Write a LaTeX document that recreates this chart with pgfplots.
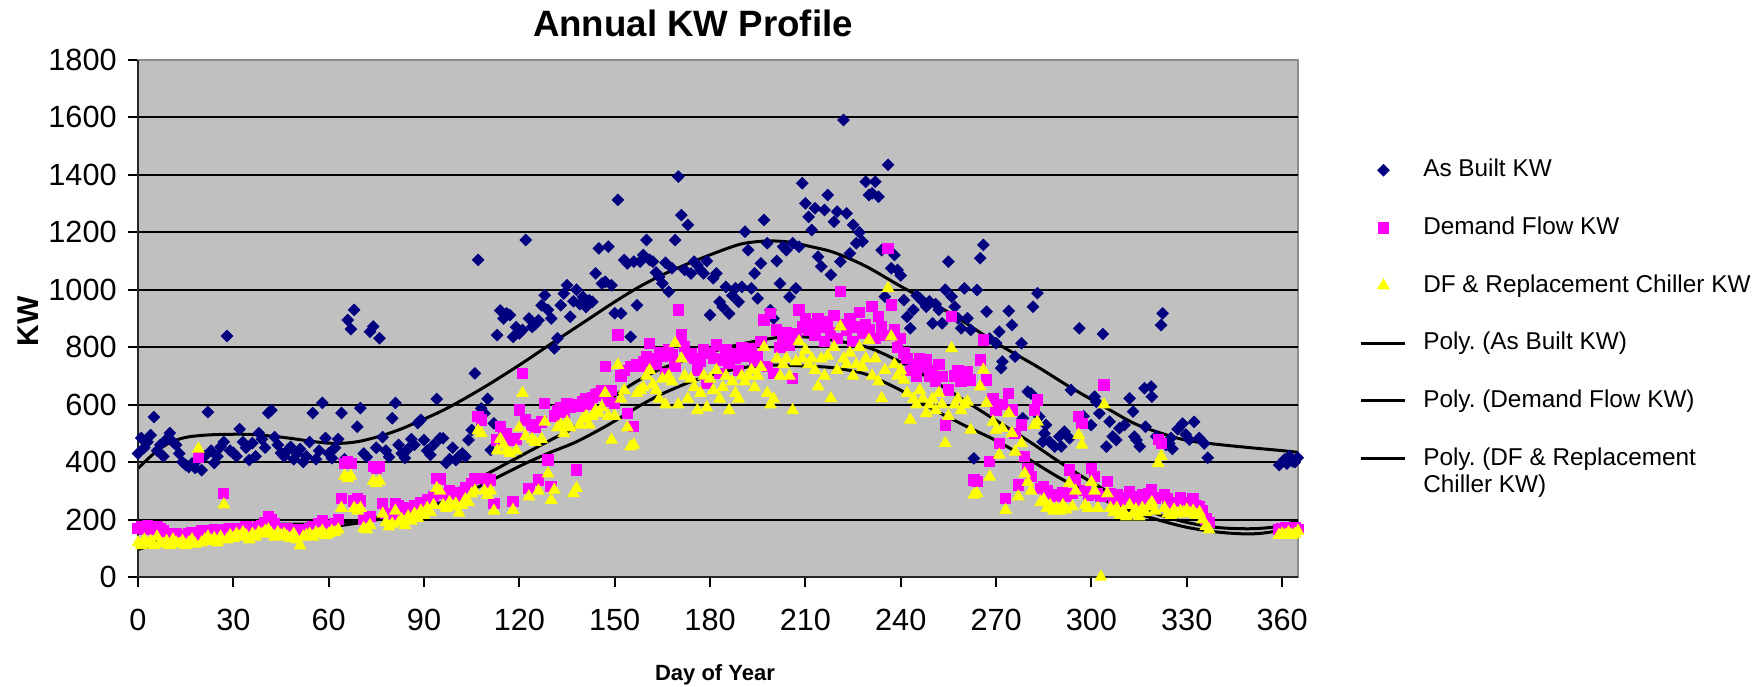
\documentclass[border=0pt]{standalone}
\usepackage{pgfplots}
\pgfplotsset{compat=1.18}
\usepackage{fontspec}
\setmainfont{Liberation Sans}
\frenchspacing
\definecolor{abnavy}{RGB}{0,0,128}
\definecolor{dfmag}{RGB}{255,0,255}
\definecolor{dfryel}{RGB}{255,255,0}
\definecolor{plotgray}{RGB}{192,192,192}
\begin{document}
\begin{tikzpicture}
\path[use as bounding box] (-41.4pt,-33pt) rectangle (484.2pt,173.1pt);
\begin{axis}[
  at={(0pt,0pt)}, anchor=south west,
  scale only axis, width=348pt, height=155.1pt,
  xmin=0, xmax=365, ymin=0, ymax=1800,
  xtick={0,30,...,360}, ytick={0,200,...,1800},
  extra y ticks={200,400,...,1600},
  extra y tick labels={},
  extra y tick style={/pgfplots/major tick length=0pt, grid=major, major grid style={black, line width=0.6pt}},
  tick pos=left, tick align=outside,
  major tick length=3pt,
  tick style={black, line width=0.6pt},
  /pgf/number format/1000 sep={},
  /pgf/number format/assume math mode=true,
  ticklabel style={font=\fontsize{9.2}{10}\selectfont, inner sep=0pt},
  xticklabel shift=6.4pt,
  yticklabel shift=3.2pt,
  axis line style={draw=black!45, line width=0.6pt},
  axis background/.style={fill=plotgray},
  clip=false,
  title={Annual KW Profile},
  title style={at={(0.4784,1.0317)}, anchor=center, font=\bfseries\fontsize{11}{13}\selectfont},
  xlabel={Day of Year},
  xlabel style={at={(0.4974,-0.2)}, anchor=base, font=\bfseries\fontsize{6.6}{8}\selectfont},
  ylabel={KW},
  ylabel style={at={(-0.0948,0.494)}, anchor=center, font=\bfseries\fontsize{9}{11}\selectfont},
  legend style={at={(1.0534,0.8125)}, anchor=north west, draw=none, fill=none,
    inner sep=0pt, outer sep=0pt, font=\fontsize{7.3}{8.2}\selectfont,
    row sep=9.3pt, column sep=4.4pt,
    nodes={inner sep=0.5pt, text height=5.5pt, text depth=1.5pt}},
  legend cell align=left,
  scatterleg/.style={legend image code/.code={\draw[mark repeat=2,mark phase=2,##1] plot coordinates {(0pt,0pt) (6.6pt,0pt) (13.2pt,0pt)};}},
  lineleg/.style={legend image code/.code={\draw[##1] (0pt,0pt) -- (13.2pt,0pt);}},
]
\addplot[only marks, mark=square*, mark size=1.15pt, mark options={rotate=45, draw=abnavy, fill=abnavy}, scatterleg] coordinates {
(0,430) (1,484) (2,450) (3,470) (4,494) (5,557) (6,440) (7,460) (8,420) (9,480)
(10,501) (11,470) (12,460) (13,430) (14,400) (15,390) (16,383) (17,395) (18,380) (19,410)
(20,372) (21,420) (22,574) (23,440) (24,397) (25,420) (26,453) (27,470) (28,839) (29,440)
(30,432) (31,420) (32,515) (33,470) (34,450) (35,407) (36,466) (37,420) (38,501) (39,480)
(40,450) (41,571) (42,581) (43,487) (44,460) (45,432) (46,420) (47,440) (48,453) (49,410)
(50,430) (51,445) (52,400) (53,420) (54,470) (55,571) (56,410) (57,440) (58,606) (59,484)
(60,430) (61,414) (62,450) (63,480) (64,571) (65,410) (66,895) (67,863) (68,930) (69,523)
(70,588) (71,430) (72,418) (73,854) (74,872) (75,450) (76,831) (77,487) (78,440) (79,418)
(80,553) (81,606) (82,460) (83,430) (84,414) (85,446) (86,480) (87,460) (88,536) (89,547)
(90,477) (91,440) (92,425) (93,460) (94,620) (95,483) (96,483) (97,397) (98,410) (99,450)
(100,407) (101,420) (102,430) (103,419) (104,477) (105,512) (106,709) (107,1104) (108,587) (109,570)
(110,620) (111,442) (112,535) (113,842) (114,928) (115,900) (116,918) (117,912) (118,836) (119,870)
(120,848) (121,860) (122,1173) (123,900) (124,871) (125,880) (126,894) (127,946) (128,981) (129,930)
(130,900) (131,796) (132,831) (133,946) (134,987) (135,1016) (136,906) (137,960) (138,1000) (139,950)
(140,975) (141,940) (142,963) (143,958) (144,1057) (145,1144) (146,1022) (147,1028) (148,1150) (149,1016)
(150,918) (151,1313) (152,918) (153,1104) (154,1092) (155,836) (156,1098) (157,946) (158,1098) (159,1121)
(160,1173) (161,1104) (162,1098) (163,1060) (164,1045) (165,1022) (166,1094) (167,993) (168,1075) (169,1173)
(170,1394) (171,1260) (172,1069) (173,1226) (174,1057) (175,1098) (176,1086) (177,1069) (178,1057) (179,1100)
(180,912) (181,1040) (182,1057) (183,958) (184,940) (185,1010) (186,917) (187,980) (188,1005) (189,958)
(190,1010) (191,1202) (192,1138) (193,1005) (194,1057) (195,970) (196,1092) (197,1243) (198,1162) (199,929)
(200,900) (201,1100) (202,1022) (203,1150) (204,1138) (205,975) (206,1162) (207,1005) (208,1150) (209,1371)
(210,1301) (211,1254) (212,1208) (213,1284) (214,1115) (215,1081) (216,1278) (217,1330) (218,1052) (219,1237)
(220,1272) (221,1098) (222,1591) (223,1266) (224,1127) (225,1226) (226,1162) (227,1200) (228,1168) (229,1376)
(230,1330) (231,1336) (232,1376) (233,1324) (234,1138) (235,976) (236,1435) (237,1075) (238,1121) (239,1069)
(240,1050) (241,964) (242,906) (243,866) (244,930) (245,980) (246,970) (247,958) (248,941) (249,960)
(250,883) (251,950) (252,930) (253,883) (254,1000) (255,1098) (256,976) (257,941) (258,901) (259,866)
(260,1005) (261,901) (262,860) (263,413) (264,999) (265,1110) (266,1156) (267,924) (268,830) (270,814)
(271,854) (271.6,727) (272,750) (274,926) (275,877) (276,767) (278,814) (278.4,553) (280,645) (281,639)
(281.6,941) (283,988) (283.6,558) (284.7,471) (285.2,500) (285.7,529) (286.8,471) (288.4,454) (289.9,489) (290.5,454)
(291.5,506) (293.1,483) (293.6,651) (296.2,866) (297.5,560) (299.9,529) (301,628) (301.5,610) (302.5,570) (303.6,846)
(304.7,454) (305.7,541) (306.7,489) (307.8,477) (308.8,518) (310.4,529) (312,622) (313.1,576) (313.5,489) (314.2,477)
(315.2,454) (316.7,657) (317,523) (318.8,663) (319,628) (320.4,489) (321.9,877) (322.4,918) (323.5,460) (324.5,465)
(325,484) (325.5,446) (327.1,515) (328.7,534) (329.7,496) (330.8,478) (332.3,540) (333.9,484) (335.5,465) (336.6,415)
(359.1,390) (360.7,409) (361.5,395) (362.3,421) (363.3,403) (364,400) (364.9,415)
};
\addlegendentry{As Built KW}
\addplot[only marks, mark=square*, mark size=1.5pt, mark options={draw=dfmag, fill=dfmag}, scatterleg] coordinates {
(0,170) (1,175) (2,165) (3,177) (4,170) (5,165) (6,175) (7,170) (8,160) (9,150)
(10,145) (11,140) (12,150) (13,145) (14,140) (15,135) (16,150) (17,155) (18,140) (19,415)
(20,160) (21,150) (22,155) (23,160) (24,165) (25,150) (26,160) (27,290) (28,165) (29,170)
(30,160) (31,165) (32,170) (33,160) (34,175) (35,165) (36,160) (37,170) (38,175) (39,180)
(40,190) (41,209) (42,200) (43,185) (44,170) (45,165) (46,160) (47,170) (48,165) (49,160)
(50,165) (51,155) (52,160) (53,165) (54,170) (55,175) (56,170) (57,185) (58,196) (59,180)
(60,175) (61,170) (62,185) (63,200) (64,274) (65,396) (66,401) (67,396) (68,265) (69,274)
(70,265) (71,200) (72,195) (73,210) (74,384) (75,377) (76,384) (77,256) (78,220) (79,205)
(80,215) (81,256) (82,247) (83,230) (84,215) (85,240) (86,220) (87,250) (88,235) (89,260)
(90,245) (91,270) (92,255) (93,280) (94,344) (95,341) (96,290) (97,275) (98,300) (99,285)
(100,295) (101,256) (102,280) (103,310) (104,300) (105,326) (106,343) (107,558) (108,547) (109,343)
(110,320) (111,338) (112,256) (113,477) (114,523) (115,500) (116,500) (117,477) (118,262) (119,480)
(120,581) (121,709) (122,547) (123,309) (124,529) (125,520) (126,338) (127,540) (128,605) (129,407)
(130,314) (131,560) (132,580) (133,590) (134,575) (135,605) (136,590) (137,600) (138,373) (139,595)
(140,611) (141,620) (142,600) (143,625) (144,634) (145,640) (146,650) (147,732) (148,611) (149,650)
(150,605) (151,843) (152,700) (153,720) (154,570) (155,732) (156,523) (157,738) (158,732) (159,750)
(160,767) (161,814) (162,760) (163,740) (164,780) (165,767) (166,709) (167,790) (168,773) (169,732)
(170,930) (171,843) (172,802) (173,770) (174,779) (175,760) (176,721) (177,750) (178,790) (179,674)
(180,780) (181,760) (182,808) (183,709) (184,755) (185,790) (186,744) (187,779) (188,760) (189,720)
(190,800) (191,767) (192,780) (193,796) (194,750) (195,767) (196,820) (197,895) (198,732) (199,918)
(200,709) (201,860) (202,800) (203,837) (204,850) (205,808) (206,692) (207,848) (208,930) (209,870)
(210,900) (211,860) (212,880) (213,840) (214,900) (215,870) (216,820) (217,890) (218,850) (219,910)
(220,830) (221,993) (222,880) (223,860) (224,900) (225,820) (226,870) (227,920) (228,850) (229,880)
(230,860) (231,941) (232,830) (233,906) (234,870) (235,840) (236,1144) (237,947) (238,860) (239,800)
(240,830) (241,780) (242,760) (243,720) (244,740) (245,700) (246,760) (247,730) (248,755) (249,700)
(250,720) (251,680) (252,740) (253,697) (254,529) (255,651) (256,906) (257,700) (258,720) (259,680)
(260,709) (261,715) (262,686) (263,338) (264,332) (265,755) (266,825) (267,686) (268,401) (269,620)
(270,581) (271,465) (272,600) (273,274) (274,640) (275,581) (276,500) (277,320) (278,529) (279,420)
(280,378) (281,350) (282,581) (283,616) (284,309) (285,314) (286,300) (287,286) (288,280) (289,285)
(290,282) (291,295) (292,280) (293,373) (294,290) (295,338) (296,558) (297,535) (298,300) (299,285)
(300,378) (301,349) (302,290) (303,280) (304,668) (305,332) (306,291) (307,270) (308,285) (309,268)
(310,275) (311,260) (312,297) (313,270) (314,280) (315,260) (316,285) (317,270) (318,290) (319,303)
(320,275) (321,478) (322,465) (323,285) (324,271) (325,260) (326,246) (327,260) (328,277) (329,255)
(330,246) (331,260) (332,271) (333,250) (334,246) (335,230) (336,202) (337,190)
(359,165) (360,170) (361,171) (362,165) (363,170) (364,171) (365,165)
};
\addlegendentry{Demand Flow KW}
\addplot[only marks, mark=triangle*, mark size=1.85pt, mark options={draw=dfryel, fill=dfryel}, scatterleg] coordinates {
(0,120) (1,110) (2,130) (3,115) (4,125) (5,110) (6,140) (7,120) (8,115) (9,125)
(10,110) (11,130) (12,120) (13,115) (14,125) (15,110) (16,120) (17,130) (18,115) (19,446)
(20,120) (21,130) (22,140) (23,125) (24,135) (25,120) (26,140) (27,252) (28,130) (29,145)
(30,135) (31,150) (32,140) (33,155) (34,145) (35,130) (36,150) (37,140) (38,155) (39,150)
(40,160) (41,165) (42,150) (43,140) (44,155) (45,145) (46,150) (47,140) (48,135) (49,150)
(50,130) (51,109) (52,140) (53,145) (54,150) (55,140) (56,155) (57,150) (58,160) (59,145)
(60,150) (61,160) (62,155) (63,165) (64,240) (65,352) (66,343) (67,352) (68,240) (69,230)
(70,240) (71,170) (72,165) (73,180) (74,334) (75,326) (76,334) (77,220) (78,190) (79,175)
(80,185) (81,230) (82,190) (83,200) (84,180) (85,210) (86,195) (87,220) (88,205) (89,230)
(90,215) (91,240) (92,225) (93,250) (94,309) (95,300) (96,250) (97,240) (98,260) (99,245)
(100,255) (101,223) (102,250) (103,270) (104,260) (105,290) (106,300) (107,510) (108,500) (109,300)
(110,285) (111,300) (112,230) (113,440) (114,480) (115,460) (116,440) (117,430) (118,233) (119,440)
(120,520) (121,640) (122,490) (123,280) (124,480) (125,470) (126,300) (127,480) (128,540) (129,360)
(130,268) (131,303) (132,520) (133,530) (134,500) (135,540) (136,520) (137,291) (138,309) (139,530)
(140,550) (141,560) (142,530) (143,560) (144,580) (145,570) (146,590) (147,640) (148,560) (149,477)
(150,560) (151,738) (152,620) (153,650) (154,520) (155,454) (156,460) (157,640) (158,650) (159,660)
(160,700) (161,720) (162,670) (163,650) (164,620) (165,690) (166,600) (167,700) (168,680) (169,814)
(170,600) (171,760) (172,700) (173,620) (174,690) (175,660) (176,580) (177,640) (178,700) (179,590)
(180,690) (181,650) (182,720) (183,620) (184,660) (185,700) (186,580) (187,680) (188,640) (189,620)
(190,700) (191,680) (192,700) (193,720) (194,660) (195,700) (196,730) (197,800) (198,640) (199,600)
(200,620) (201,760) (202,700) (203,740) (204,760) (205,700) (206,580) (207,750) (208,820) (209,760)
(210,790) (211,740) (212,760) (213,720) (214,663) (215,760) (216,700) (217,770) (218,622) (219,800)
(220,720) (221,872) (222,760) (223,740) (224,780) (225,700) (226,740) (227,800) (228,730) (229,760)
(230,825) (231,700) (232,760) (233,680) (234,622) (235,720) (236,1005) (237,837) (238,740) (239,700)
(240,720) (241,686) (242,640) (243,547) (244,620) (245,600) (246,650) (247,620) (248,570) (249,600)
(250,620) (251,580) (252,640) (253,600) (254,466) (255,560) (256,796) (257,600) (258,620) (259,580)
(260,600) (261,610) (262,512) (263,286) (264,291) (265,663) (266,721) (267,605) (268,349) (269,540)
(270,512) (271,425) (272,518) (273,233) (274,570) (275,500) (276,436) (277,280) (278,465) (279,360)
(280,330) (281,300) (282,529) (283,540) (284,260) (285,270) (286,240) (287,250) (288,230) (289,240)
(290,230) (291,250) (292,235) (293,326) (294,245) (295,300) (296,494) (297,460) (298,250) (299,240)
(300,330) (301,300) (302,240) (303,0) (304,600) (305,290) (306,240) (307,225) (308,240) (309,215)
(310,230) (311,210) (312,250) (313,220) (314,235) (315,210) (316,240) (317,225) (318,245) (319,260)
(320,230) (321,396) (322,420) (323,240) (324,221) (325,215) (326,234) (327,220) (328,230) (329,225)
(330,234) (331,221) (332,230) (333,215) (334,225) (335,200) (336,177) (337,165)
(359,146) (360,150) (361,146) (362,155) (363,146) (364,150) (365,160)
};
\addlegendentry{DF \& Replacement Chiller KW}
\addplot[black, line width=0.9pt, smooth, lineleg] coordinates {
(0,378) (5,430) (10,468) (15,486) (20,493) (25,496) (30,497) (36,496) (45,487) (55,472)
(60,466) (65,466) (70,473) (76,490) (82,512) (88,540) (95,575) (101,610) (110,668) (120,738)
(130,812) (140,885) (150,958) (158,1012) (166,1057) (174,1095) (182,1130) (190,1160) (198,1170) (205,1166)
(211,1152) (219,1130) (229,1082) (240,1012) (250,953) (258,902) (265,851) (272,802) (283,732) (293,663)
(304,593) (314,532) (325,490) (332,472) (342,459) (353,447) (360,440) (365,434)
};
\addlegendentry{Poly. (As Built KW)}
\addplot[black, line width=0.9pt, smooth, lineleg] coordinates {
(0,96) (5,122) (10,144) (15,160) (20,170) (28,178) (36,183) (45,184) (52,184) (62,189)
(73,202) (83,230) (89,252) (95,278) (101,308) (110,360) (122,431) (130,478) (138,525) (146,598)
(155,668) (164,722) (174,762) (183,792) (191,814) (200,832) (206,837) (212,834) (220,822) (230,798)
(240,748) (250,685) (260,615) (270,545) (280,475) (290,400) (300,330) (310,270) (320,222) (330,190)
(340,172) (350,168) (358,175) (365,196)
};
\addlegendentry{Poly. (Demand Flow KW)}
\addplot[black, line width=0.9pt, smooth, lineleg] coordinates {
(0,96) (5,112) (10,127) (20,157) (28,167) (36,171) (52,171) (62,177) (73,195) (83,220)
(89,240) (95,258) (101,280) (110,330) (122,396) (130,435) (138,471) (148,530) (158,597) (165,638)
(174,680) (182,708) (191,730) (200,738) (211,734) (219,728) (229,706) (240,650) (250,585) (260,528)
(270,475) (280,412) (290,345) (300,288) (310,240) (320,202) (330,173) (340,156) (350,150) (358,160)
(365,190)
};
\addlegendentry{\smash{\begin{tabular}[t]{@{}l@{}}Poly. (DF \& Replacement\\Chiller KW)\end{tabular}}}
\draw[black!85, line width=0.6pt] (rel axis cs:0,1) -- (rel axis cs:0,0) -- (rel axis cs:1,0);
\end{axis}
\end{tikzpicture}
\end{document}
